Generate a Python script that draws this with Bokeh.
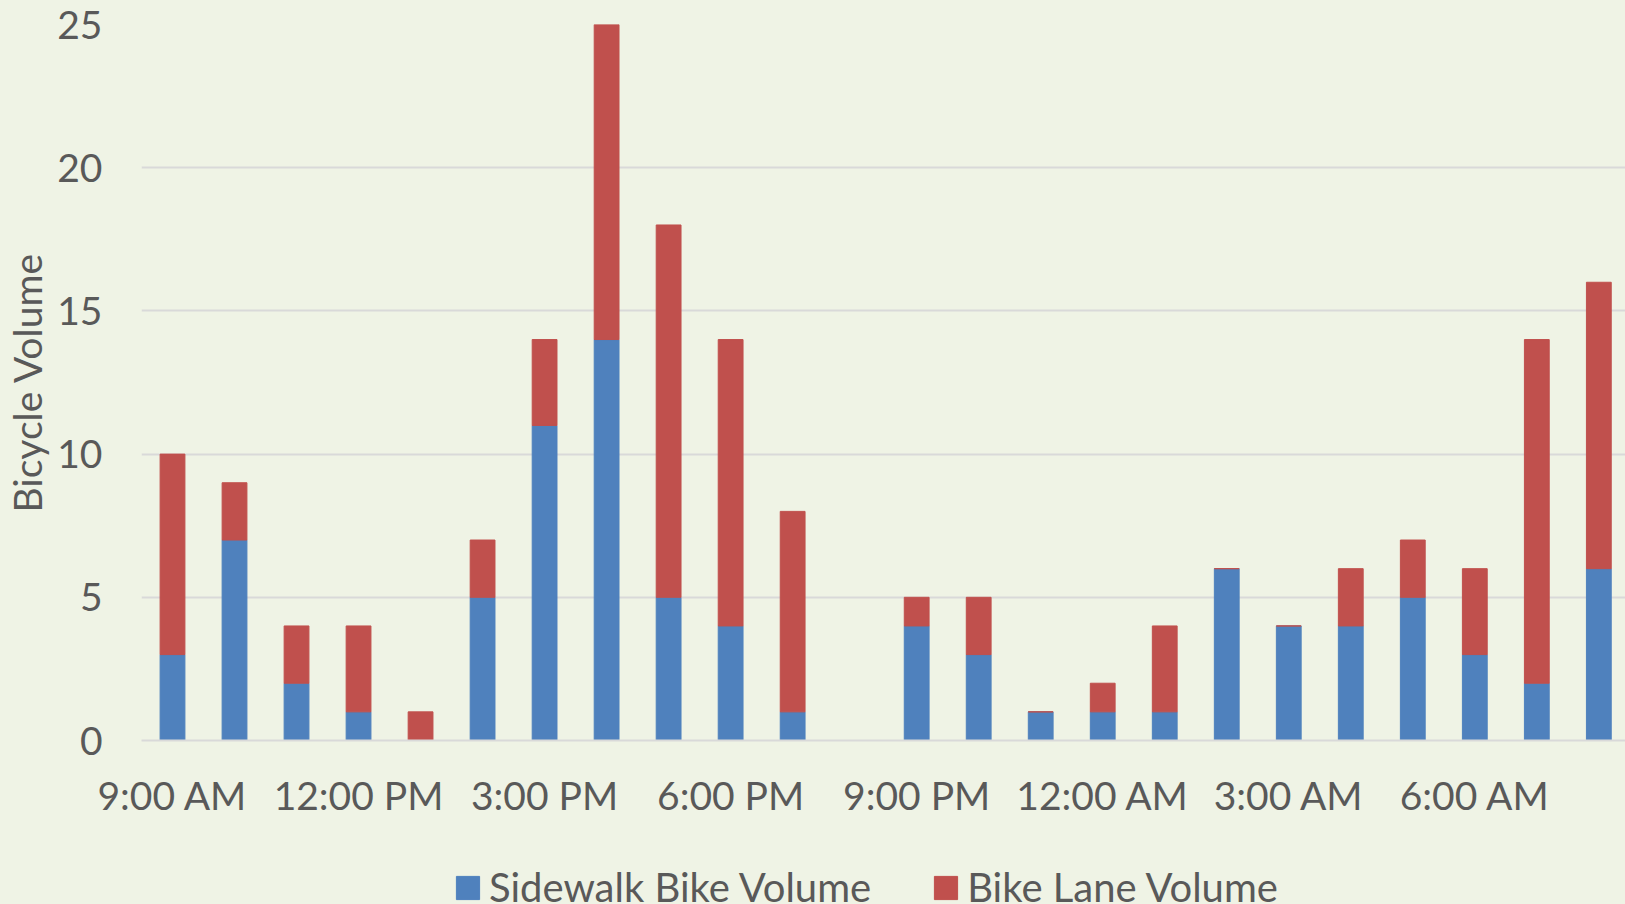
from bokeh.plotting import figure
from bokeh.models import ColumnDataSource, FixedTicker, Legend, LegendItem
from bokeh.layouts import column
from bokeh.embed import file_html
from bokeh.resources import INLINE

hours = ["9:00 AM", "10:00 AM", "11:00 AM", "12:00 PM", "1:00 PM", "2:00 PM",
         "3:00 PM", "4:00 PM", "5:00 PM", "6:00 PM", "7:00 PM", "8:00 PM",
         "9:00 PM", "10:00 PM", "11:00 PM", "12:00 AM", "1:00 AM", "2:00 AM",
         "3:00 AM", "4:00 AM", "5:00 AM", "6:00 AM", "7:00 AM", "8:00 AM"]
sidewalk = [3, 7, 2, 1, 0, 5, 11, 14, 5, 4, 1, 0, 4, 3, 1, 1, 1, 6, 4, 4, 5, 3, 2, 6]
bike_lane = [7, 2, 2, 3, 1, 2, 3, 11, 13, 10, 7, 0, 1, 2, 0, 1, 3, 0, 0, 2, 2, 3, 12, 10]
series_names = ["Sidewalk Bike Volume", "Bike Lane Volume"]
series_colors = ["#4F81BD", "#C0504D"]
y_ticks = [0, 5, 10, 15, 20, 25]
tick_idx = list(range(0, 24, 3))

BG = "#EFF3E5"
TXT = "#595959"
FONT = "Lato"

src = ColumnDataSource(dict(x=list(range(len(hours))), sidewalk=sidewalk, bike_lane=bike_lane))

p = figure(width=1625, height=860, output_backend="svg", toolbar_location=None,
           x_range=(-0.5, 23.43), y_range=(0, 25),
           min_border_left=141, min_border_right=0, min_border_top=24, min_border_bottom=120,
           styles={"background-color": BG})
p.background_fill_color = BG
p.border_fill_color = BG
p.outline_line_color = None

rs = p.vbar_stack(["sidewalk", "bike_lane"], x="x", width=0.4, source=src,
                  color=series_colors, line_color=series_colors)

p.xgrid.grid_line_color = None
p.ygrid.grid_line_color = "#D9D9D9"
p.ygrid.grid_line_width = 2
p.ygrid.ticker = FixedTicker(ticks=y_ticks)

p.yaxis.ticker = FixedTicker(ticks=y_ticks)
p.yaxis.axis_line_color = None
p.yaxis.major_tick_line_color = None
p.yaxis.minor_tick_line_color = None
p.yaxis.major_label_standoff = 33
p.yaxis.major_label_text_font = FONT
p.yaxis.major_label_text_font_size = "39px"
p.yaxis.major_label_text_color = TXT
p.yaxis.axis_label = "Bicycle Volume"
p.yaxis.axis_label_text_font = FONT
p.yaxis.axis_label_text_font_size = "39px"
p.yaxis.axis_label_text_font_style = "normal"
p.yaxis.axis_label_text_color = TXT
p.yaxis.axis_label_standoff = 4

p.xaxis.ticker = FixedTicker(ticks=tick_idx)
p.xaxis.major_label_overrides = {i: hours[i] for i in tick_idx}
p.xaxis.axis_line_color = "#D9D9D9"
p.xaxis.axis_line_width = 2
p.xaxis.major_tick_line_color = None
p.xaxis.minor_tick_line_color = None
p.xaxis.major_label_standoff = 25
p.xaxis.major_label_text_font = FONT
p.xaxis.major_label_text_font_size = "39px"
p.xaxis.major_label_text_color = TXT

# legend strip below the chart
p2 = figure(width=1625, height=44, output_backend="svg", toolbar_location=None,
            x_range=(0, 1), y_range=(0, 1), min_border=0,
            x_axis_location=None, y_axis_location=None,
            styles={"background-color": BG})
p2.background_fill_color = BG
p2.border_fill_color = BG
p2.outline_line_color = None
p2.grid.visible = False
# legend swatches (placed below the visible range of this strip)
dummies = [p2.vbar(x=[0.5], bottom=[-5], top=[-4], width=0.4, color=c, line_color=c)
           for c in series_colors]

legend = Legend(items=[LegendItem(label=series_names[i], renderers=[dummies[i]]) for i in range(2)],
                orientation="horizontal", location=(312, -7),
                glyph_width=29, glyph_height=29, label_standoff=7, spacing=60,
                padding=0, margin=0, border_line_color=None, background_fill_alpha=0,
                label_text_font=FONT, label_text_font_size="40px", label_text_color=TXT,
                label_height=23)
p2.add_layout(legend, "center")

layout = column(p, p2, spacing=0, styles={"background-color": BG})
open("out.html", "w").write(file_html(layout, INLINE))
